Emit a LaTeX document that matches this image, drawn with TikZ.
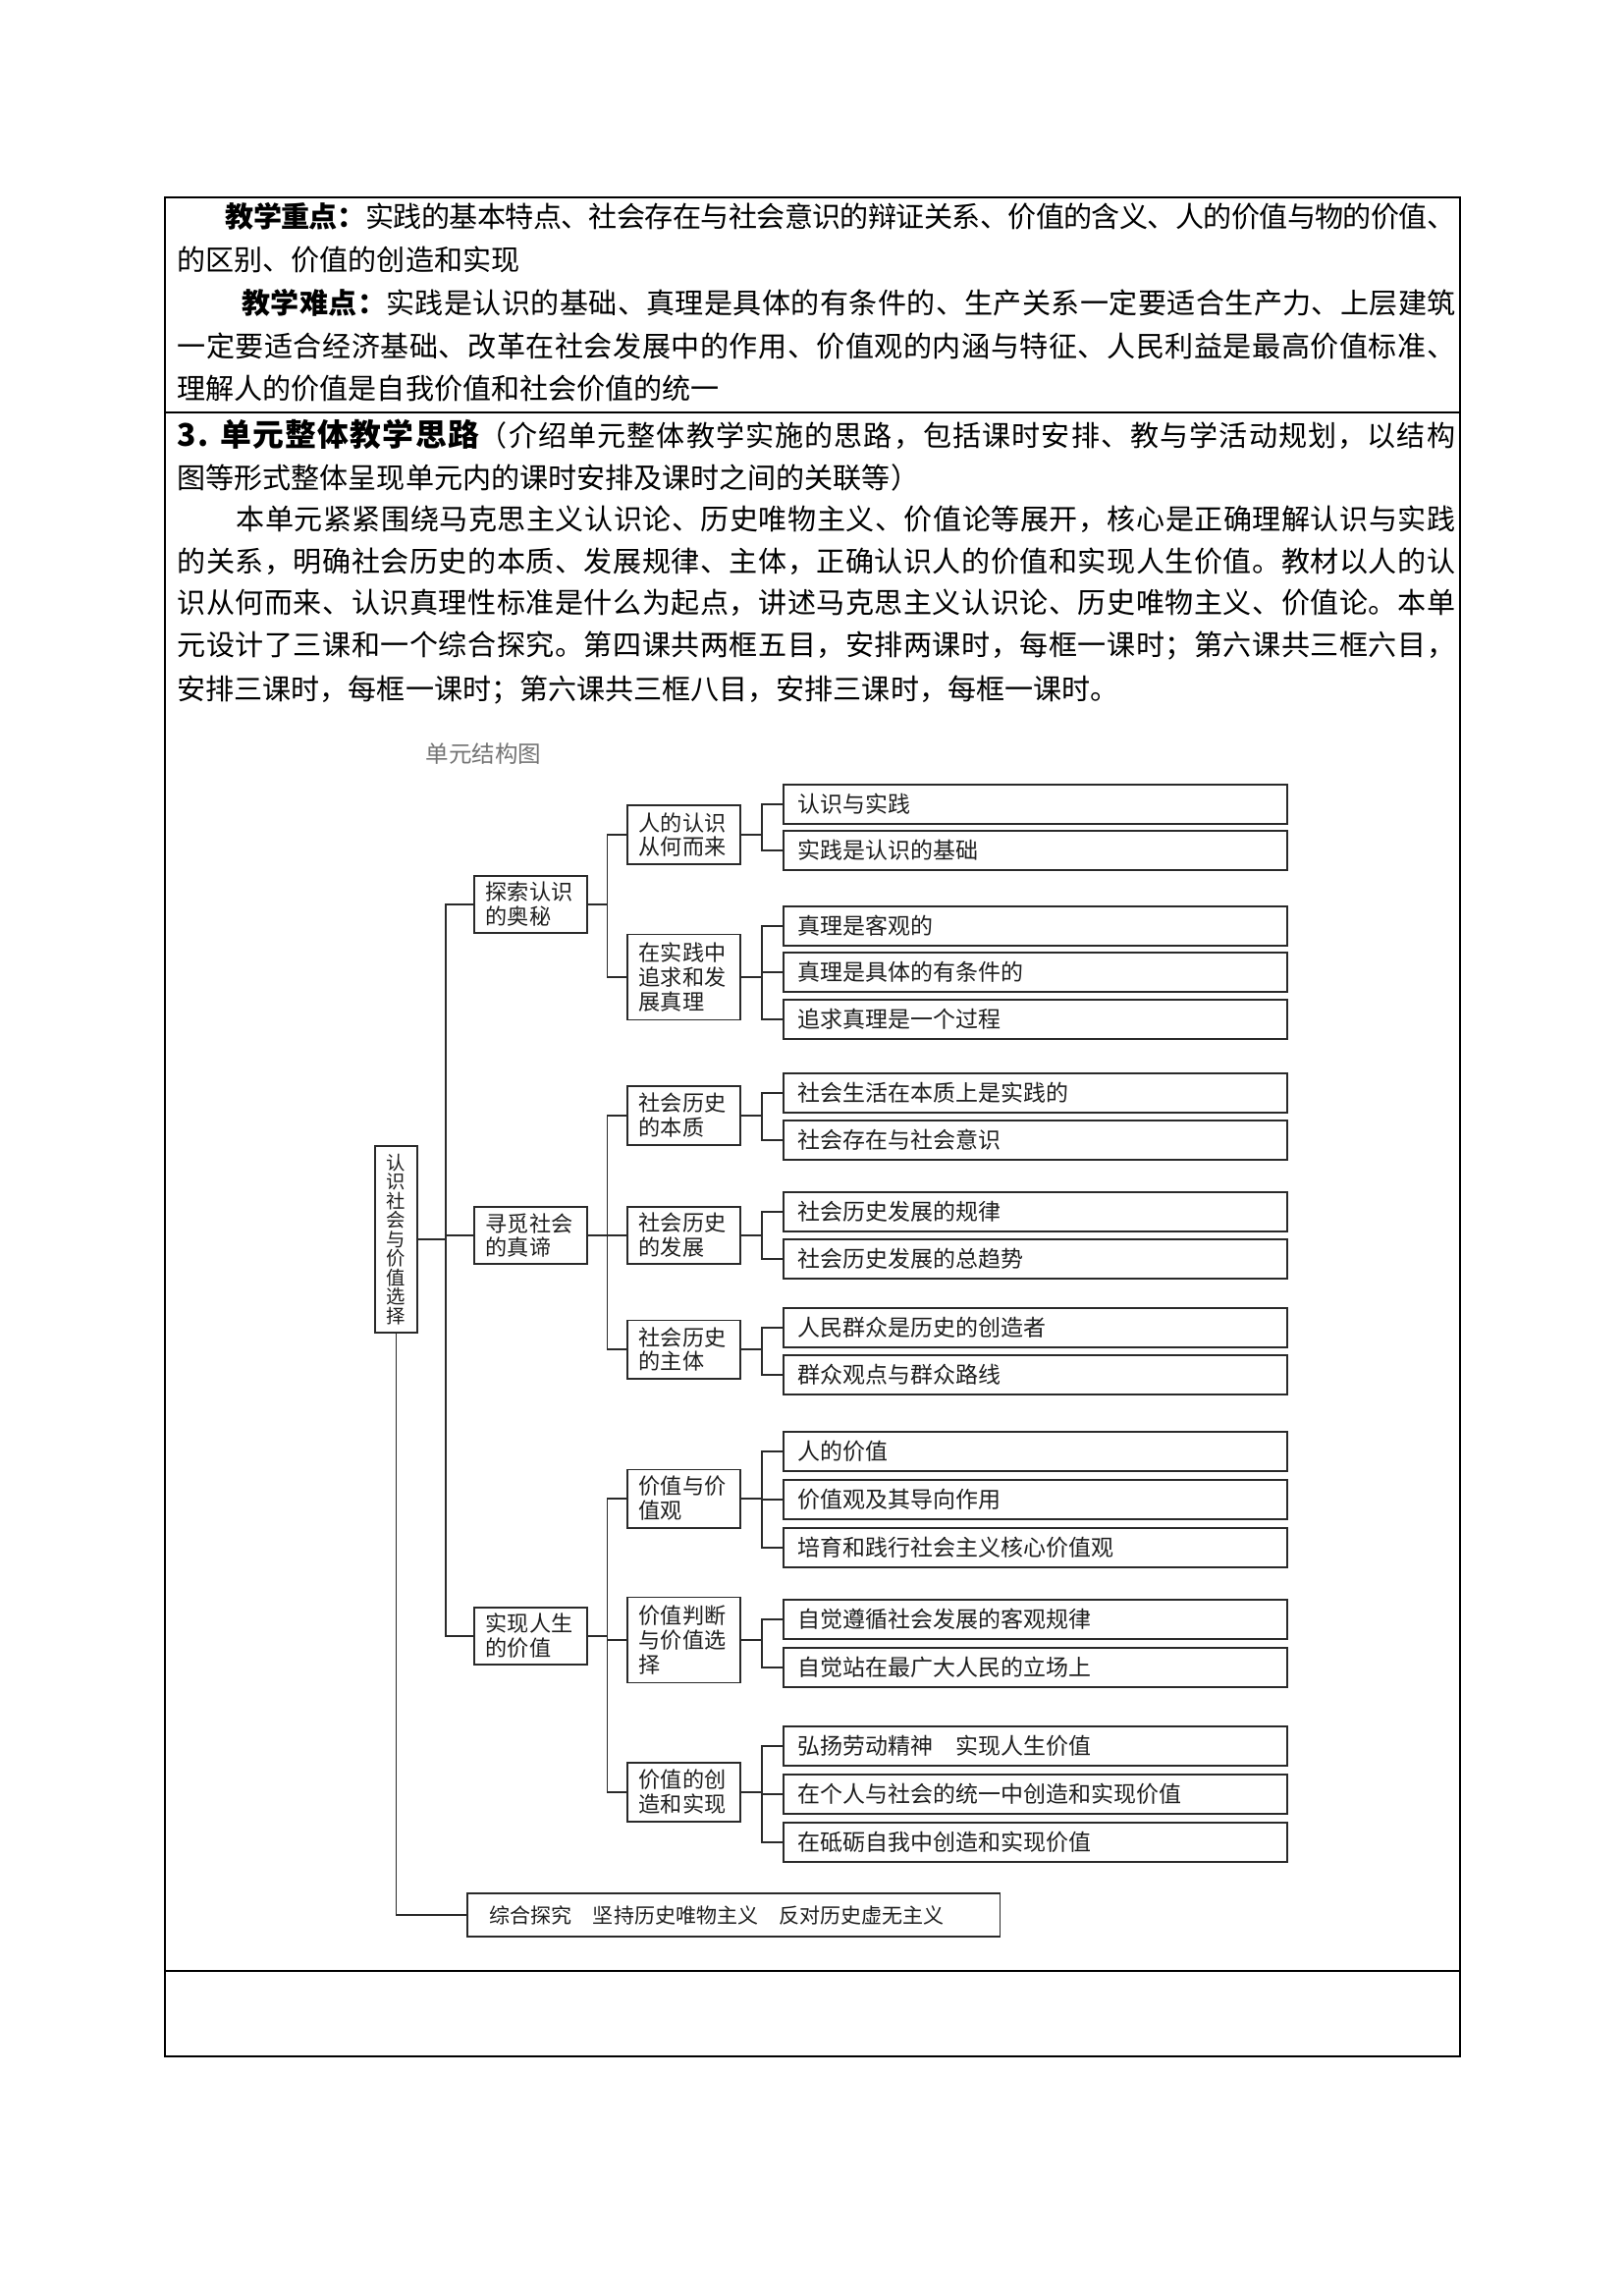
\documentclass[tikz,border=0pt]{standalone}
\usepackage{fontspec}
\setmainfont{Noto Sans CJK SC}
\usetikzlibrary{calc}
% glue between CJK characters, used only for the justified lines
\newcommand{\cjkglue}{\hskip 0pt plus 0.15em minus 0.06em\relax}
\foreach \a in {0,1,2,3}{\foreach \b in {0,1,2,3}{%
  \global\XeTeXinterchartoks\a\space\b\space={\cjkglue}}}
\newcommand{\jline}[2]{\makebox[#1][s]{\XeTeXinterchartokenstate=1 #2}}
\definecolor{scanline}{HTML}{2A2A2A}
\definecolor{scantext}{HTML}{1E1E1E}

\begin{document}
\begin{tikzpicture}[x=0.127mm, y=-0.127mm,
    txt/.style={anchor=base west, inner sep=0pt, font=\fontsize{10.5}{12}\selectfont},
    leaf/.style={draw=scanline, line width=0.7pt, anchor=west, inner xsep=1.9mm,
      inner ysep=0pt, text width=61.3mm, minimum height=5.08mm, align=left,
      text=scantext, font=\fontsize{8.3}{10}\selectfont},
    mid/.style={draw=scanline, line width=0.7pt, anchor=west, inner xsep=1.5mm,
      inner ysep=0pt, text width=11.6mm, minimum height=7.6mm, align=left,
      text=scantext, font=\fontsize{8}{9}\selectfont},
    link/.style={draw=scanline, line width=0.6pt}
  ]
  \useasboundingbox (0,0) rectangle (1653,2338);

  % table frame
  \draw[line width=0.6pt] (168,201) rectangle (1487,2094);
  \draw[line width=0.6pt] (168,420) -- (1487,420);
  \draw[line width=0.6pt] (168,2007) -- (1487,2007);

  % key points and difficulties
  \node[txt] (zd1) at (229,232) {\jline{159.1mm}{\textbf{教学重点：}实践的基本特点、社会存在与社会意识的辩证关系、价值的含义、人的价值与物的价值、}};
  \node[txt] (zd2) at (180,276) {的区别、价值的创造和实现};
  \node[txt] (nd1) at (246,320) {\jline{157.0mm}{\textbf{教学难点：}实践是认识的基础、真理是具体的有条件的、生产关系一定要适合生产力、上层建筑}};
  \node[txt] (nd2) at (180,364) {\jline{165.3mm}{一定要适合经济基础、改革在社会发展中的作用、价值观的内涵与特征、人民利益是最高价值标准、}};
  \node[txt] (nd3) at (180,407) {理解人的价值是自我价值和社会价值的统一};

  % unit teaching plan
  \node[txt] (sl1) at (180,455) {\jline{165.3mm}{{\fontsize{11.5}{14}\selectfont\bfseries 3. 单元整体教学思路}（介绍单元整体教学实施的思路，包括课时安排、教与学活动规划，以结构}};
  \node[txt] (sl2) at (180,498) {图等形式整体呈现单元内的课时安排及课时之间的关联等）};
  \node[txt] (p1) at (240,540) {\jline{157.7mm}{本单元紧紧围绕马克思主义认识论、历史唯物主义、价值论等展开，核心是正确理解认识与实践}};
  \node[txt] (p2) at (180,583) {\jline{165.3mm}{的关系，明确社会历史的本质、发展规律、主体，正确认识人的价值和实现人生价值。教材以人的认}};
  \node[txt] (p3) at (180,625) {\jline{165.3mm}{识从何而来、认识真理性标准是什么为起点，讲述马克思主义认识论、历史唯物主义、价值论。本单}};
  \node[txt] (p4) at (180,668) {\jline{165.3mm}{元设计了三课和一个综合探究。第四课共两框五目，安排两课时，每框一课时；第六课共三框六目，}};
  \node[txt] (p5) at (180,712) {安排三课时，每框一课时；第六课共三框八目，安排三课时，每框一课时。};

  % structure chart
  \node[anchor=base west, inner sep=0pt, text=black!55,
    font=\fontsize{8.5}{10}\selectfont] (title) at (433,777) {单元结构图};

  \node[draw=scanline, line width=0.7pt, minimum width=5.46mm, minimum height=24.1mm,
    inner sep=0pt, align=center, text=scantext, font=\fontsize{7}{7.05}\selectfont]
    (root) at (403.5,1262) {认\\识\\社\\会\\与\\价\\值\\选\\择};

  \node[mid, minimum height=7.3mm] (t1) at (482,921) {探索认识\\的奥秘};
  \node[mid, minimum height=7.3mm] (t2) at (482,1258) {寻觅社会\\的真谛};
  \node[mid, minimum height=7.3mm] (t3) at (482,1666) {实现人生\\的价值};

  \node[mid] (m1) at (638,850) {人的认识\\从何而来};
  \node[mid, minimum height=11.05mm] (m2) at (638,995) {在实践中\\追求和发\\展真理};
  \node[mid] (m3) at (638,1136) {社会历史\\的本质};
  \node[mid, minimum height=7.4mm] (m4) at (638,1258) {社会历史\\的发展};
  \node[mid, minimum height=7.5mm] (m5) at (638,1374) {社会历史\\的主体};
  \node[mid, minimum height=7.5mm] (m6) at (638,1526) {价值与价\\值观};
  \node[mid, minimum height=11.05mm] (m7) at (638,1670) {价值判断\\与价值选\\择};
  \node[mid] (m8) at (638,1825) {价值的创\\造和实现};

  \node[leaf] (k1) at (797,819) {认识与实践};
  \node[leaf] (k2) at (797,866) {实践是认识的基础};
  \node[leaf] (k3) at (797,943) {真理是客观的};
  \node[leaf] (k4) at (797,990) {真理是具体的有条件的};
  \node[leaf] (k5) at (797,1038) {追求真理是一个过程};
  \node[leaf] (k6) at (797,1113) {社会生活在本质上是实践的};
  \node[leaf] (k7) at (797,1161) {社会存在与社会意识};
  \node[leaf] (k8) at (797,1234) {社会历史发展的规律};
  \node[leaf] (k9) at (797,1282) {社会历史发展的总趋势};
  \node[leaf] (k10) at (797,1352) {人民群众是历史的创造者};
  \node[leaf] (k11) at (797,1400) {群众观点与群众路线};
  \node[leaf] (k12) at (797,1478) {人的价值};
  \node[leaf] (k13) at (797,1527) {价值观及其导向作用};
  \node[leaf] (k14) at (797,1576) {培育和践行社会主义核心价值观};
  \node[leaf] (k15) at (797,1649) {自觉遵循社会发展的客观规律};
  \node[leaf] (k16) at (797,1698) {自觉站在最广大人民的立场上};
  \node[leaf] (k17) at (797,1778) {弘扬劳动精神\quad 实现人生价值};
  \node[leaf] (k18) at (797,1827) {在个人与社会的统一中创造和实现价值};
  \node[leaf] (k19) at (797,1876) {在砥砺自我中创造和实现价值};

  \node[draw=scanline, line width=0.7pt, anchor=west, inner xsep=2.9mm, inner ysep=0pt,
    minimum height=5.6mm, text width=63.1mm, align=left, text=scantext,
    font=\fontsize{7.6}{9}\selectfont] (zh) at (475,1950)
    {综合探究\quad 坚持历史唯物主义\quad 反对历史虚无主义};

  % connectors
  \foreach \p/\c in {root/t1, root/t2, root/t3,
      t1/m1, t1/m2, t2/m3, t2/m4, t2/m5, t3/m6, t3/m7, t3/m8,
      m1/k1, m1/k2, m2/k3, m2/k4, m2/k5, m3/k6, m3/k7, m4/k8, m4/k9,
      m5/k10, m5/k11, m6/k12, m6/k13, m6/k14, m7/k15, m7/k16,
      m8/k17, m8/k18, m8/k19}
    \draw[link] (\p.east) -| ($(\p.east)!.5!(\c.west)$) |- (\c.west);
  \draw[link] (root.south) |- (zh.west);
\end{tikzpicture}
\end{document}
